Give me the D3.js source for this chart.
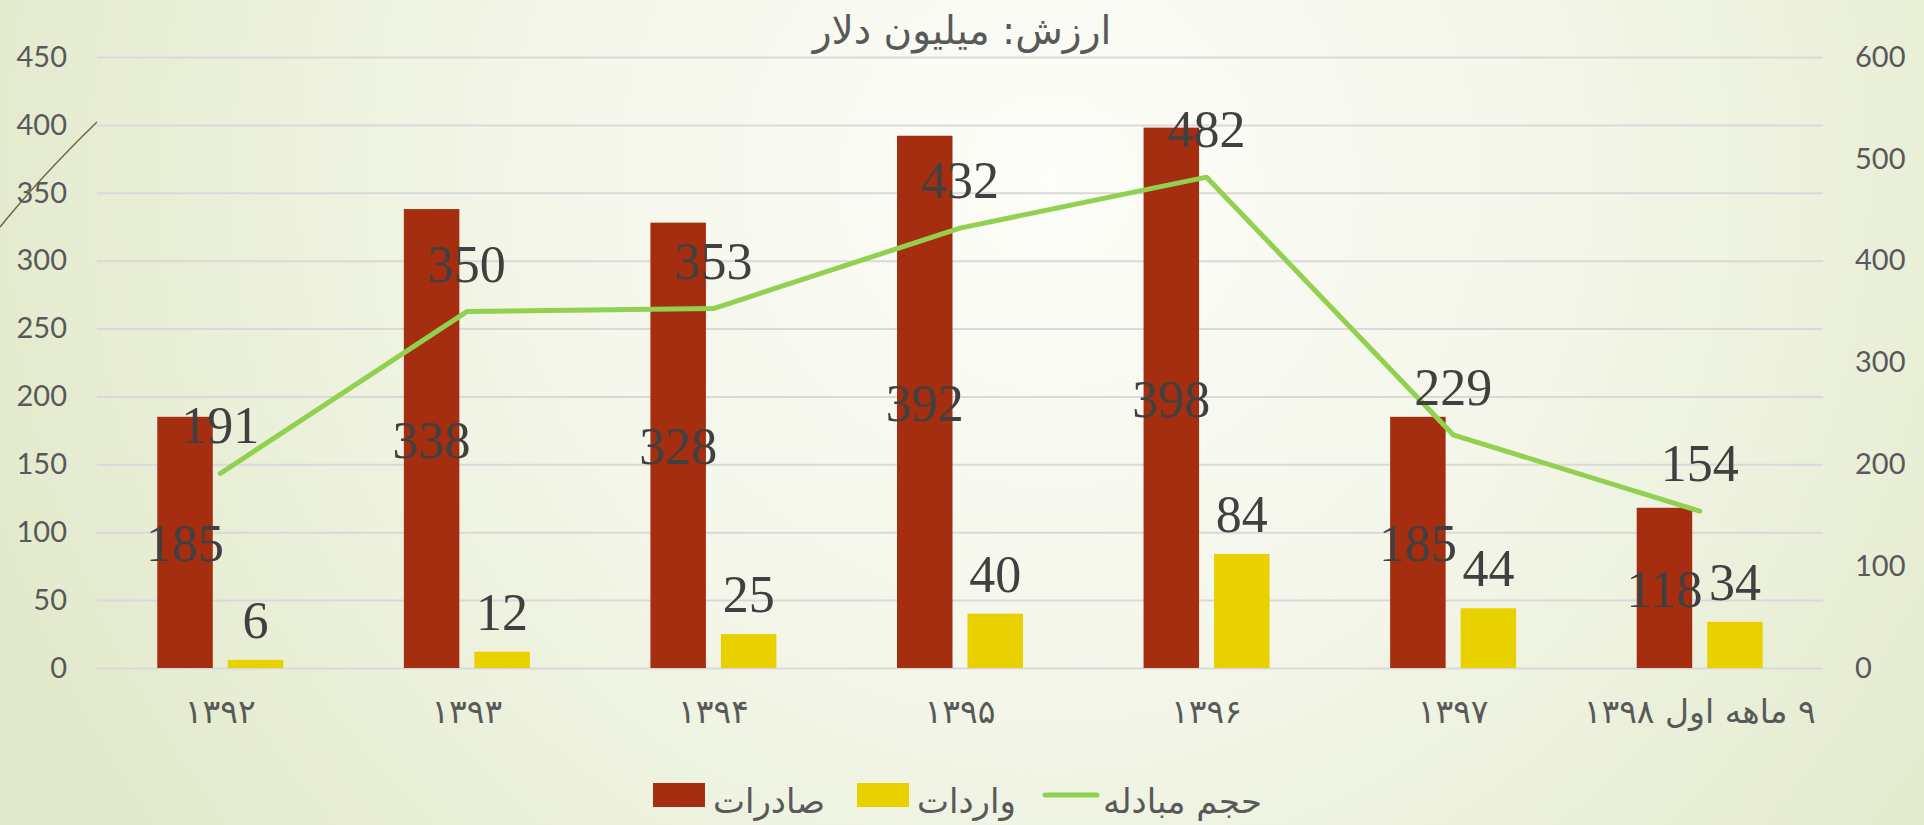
<!DOCTYPE html>
<html>
<head>
<meta charset="utf-8">
<script src="https://cdn.jsdelivr.net/npm/d3@7"></script>
<style>
  html, body { margin: 0; padding: 0; overflow: hidden; }
  svg { display: block; }
</style>
</head>
<body>
<svg id="chart" width="1924" height="825"></svg>
<script>
// data
const categories = ["۱۳۹۲", "۱۳۹۳", "۱۳۹۴", "۱۳۹۵", "۱۳۹۶", "۱۳۹۷", "۹ ماهه اول ۱۳۹۸"];
const exportsValues = [185, 338, 328, 392, 398, 185, 118];
const importsValues = [6, 12, 25, 40, 84, 44, 34];
const totalValues = [191, 350, 353, 432, 482, 229, 154];
const leftTicks = [0, 50, 100, 150, 200, 250, 300, 350, 400, 450];
const rightTicks = [0, 100, 200, 300, 400, 500, 600];
const seriesNames = ["صادرات", "واردات", "حجم مبادله"];
const titleText = "ارزش: میلیون دلار";

const W = 1924, H = 825;
const plotLeft = 97, plotRight = 1823, plotTop = 57, plotBottom = 668;
const colExp = "#a42e0f", colImp = "#e9d100", colLine = "#92d050";
const labelFont = "'Liberation Serif', 'Times New Roman', serif";
const faFont = "'DejaVu Sans', sans-serif";
const tickFont = "Lato, 'Open Sans', sans-serif";

const svg = d3.select("#chart");

// background
const defs = svg.append("defs");
const grad = defs.append("radialGradient")
  .attr("id", "bg")
  .attr("gradientUnits", "userSpaceOnUse")
  .attr("cx", 1050).attr("cy", 180).attr("r", 1150);
grad.append("stop").attr("offset", "0%").attr("stop-color", "#fdfdf9");
grad.append("stop").attr("offset", "45%").attr("stop-color", "#f3f6e9");
grad.append("stop").attr("offset", "100%").attr("stop-color", "#e2e9ca");
svg.append("rect").attr("width", W).attr("height", H).attr("fill", "url(#bg)");

// slide decoration
svg.append("path")
  .attr("d", "M0,227 C30,190 62,156 97,122")
  .attr("fill", "none")
  .attr("stroke", "#6f6547")
  .attr("stroke-width", 1.5);

const x = d3.scaleBand().domain(categories).range([plotLeft, plotRight]).padding(0);
const x1 = d3.scaleBand().domain(["exp", "imp"]).range([-63, 63]).paddingInner(0.213);
const y = d3.scaleLinear().domain([0, 450]).range([plotBottom, plotTop]);
const y2 = d3.scaleLinear().domain([0, 600]).range([plotBottom, plotTop]);

// left axis + gridlines
const gLeft = svg.append("g")
  .attr("transform", `translate(${plotLeft},0)`)
  .call(d3.axisLeft(y).tickValues(leftTicks).tickSize(-(plotRight - plotLeft)).tickPadding(30));
gLeft.select(".domain").remove();
gLeft.selectAll(".tick line").attr("stroke", "#d9d9d9").attr("stroke-width", 2);
gLeft.selectAll(".tick text")
  .attr("font-family", tickFont).attr("font-size", 29).attr("fill", "#595959");

// right axis
const gRight = svg.append("g")
  .attr("transform", `translate(${plotRight},0)`)
  .call(d3.axisRight(y2).tickValues(rightTicks).tickSize(0).tickPadding(32));
gRight.select(".domain").remove();
gRight.selectAll(".tick text")
  .attr("font-family", tickFont).attr("font-size", 29).attr("fill", "#595959");

// category labels
svg.append("g").selectAll("text")
  .data(categories)
  .join("text")
  .attr("x", d => x(d) + x.bandwidth() / 2)
  .attr("y", 723)
  .attr("text-anchor", "middle")
  .attr("direction", "rtl")
  .attr("font-family", faFont)
  .attr("font-size", 33)
  .attr("fill", "#595959")
  .text(d => d);

// bars
const mid = d => x(d) + x.bandwidth() / 2;
svg.append("g").selectAll("rect")
  .data(categories)
  .join("rect")
  .attr("x", d => mid(d) + x1("exp"))
  .attr("width", x1.bandwidth())
  .attr("y", (d, i) => y(exportsValues[i]))
  .attr("height", (d, i) => plotBottom - y(exportsValues[i]))
  .attr("fill", colExp);

svg.append("g").selectAll("rect")
  .data(categories)
  .join("rect")
  .attr("x", d => mid(d) + x1("imp"))
  .attr("width", x1.bandwidth())
  .attr("y", (d, i) => y(importsValues[i]))
  .attr("height", (d, i) => plotBottom - y(importsValues[i]))
  .attr("fill", colImp);

// total line
const line = d3.line()
  .x(d => mid(d.c))
  .y(d => y2(d.v));
const lineData = categories.map((c, i) => ({ c: c, v: totalValues[i] }));
svg.append("path")
  .datum(lineData)
  .attr("d", line)
  .attr("fill", "none")
  .attr("stroke", colLine)
  .attr("stroke-width", 5)
  .attr("stroke-linecap", "round")
  .attr("stroke-linejoin", "round");

// data labels
const labels = svg.append("g")
  .attr("font-family", labelFont)
  .attr("font-size", 52)
  .attr("fill", "#404040")
  .attr("text-anchor", "middle");

labels.selectAll(".lexp")
  .data(categories)
  .join("text")
  .attr("class", "lexp")
  .attr("x", d => mid(d) + x1("exp") + x1.bandwidth() / 2)
  .attr("y", (d, i) => (y(exportsValues[i]) + plotBottom) / 2 + 19)
  .text((d, i) => exportsValues[i]);

labels.selectAll(".limp")
  .data(categories)
  .join("text")
  .attr("class", "limp")
  .attr("x", d => mid(d) + x1("imp") + x1.bandwidth() / 2)
  .attr("y", (d, i) => y(importsValues[i]) - 22)
  .text((d, i) => importsValues[i]);

labels.selectAll(".ltot")
  .data(categories)
  .join("text")
  .attr("class", "ltot")
  .attr("x", d => mid(d))
  .attr("y", (d, i) => y2(totalValues[i]) - 30)
  .text((d, i) => totalValues[i]);

// title
svg.append("text")
  .attr("x", 962)
  .attr("y", 44)
  .attr("text-anchor", "middle")
  .attr("direction", "rtl")
  .attr("font-family", faFont)
  .attr("font-size", 39)
  .attr("fill", "#595959")
  .text(titleText);

// legend
const legend = svg.append("g")
  .attr("font-family", faFont)
  .attr("font-size", 34)
  .attr("fill", "#595959");
const legendItems = [
  { name: seriesNames[0], type: "box", color: colExp, x: 653 },
  { name: seriesNames[1], type: "box", color: colImp, x: 857 },
  { name: seriesNames[2], type: "line", color: colLine, x: 1043 }
];
legendItems.forEach(it => {
  if (it.type === "box") {
    legend.append("rect")
      .attr("x", it.x).attr("y", 783)
      .attr("width", 52).attr("height", 24)
      .attr("fill", it.color);
  } else {
    legend.append("line")
      .attr("x1", it.x + 2).attr("x2", it.x + 54)
      .attr("y1", 795).attr("y2", 795)
      .attr("stroke", it.color).attr("stroke-width", 5)
      .attr("stroke-linecap", "round");
  }
  legend.append("text")
    .attr("x", it.x + 60)
    .attr("y", 813)
    .attr("text-anchor", "end")
    .attr("direction", "rtl")
    .text(it.name);
});
</script>
</body>
</html>
